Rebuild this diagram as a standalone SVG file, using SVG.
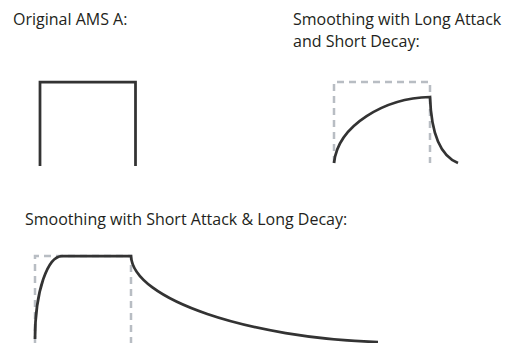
<svg xmlns="http://www.w3.org/2000/svg" width="523" height="343" viewBox="0 0 523 343">
<style>
text{font-family:"Open Sans","Noto Sans","Liberation Sans",sans-serif;font-size:16px;fill:#231f20}
.env{fill:none;stroke:#333;stroke-width:2.75}
.dash{fill:none;stroke:#b8bdc3;stroke-width:2.5;stroke-dasharray:7 5}
</style>
<rect width="523" height="343" fill="#fff"/>
<g id="original">
<text x="13" y="25">Original AMS A:</text>
<path class="env" d="M40,166 V82 H135.5 V166"/>
</g>
<g id="long-attack">
<text x="293" y="25">Smoothing with Long Attack</text>
<text x="293" y="46.5">and Short Decay:</text>
<path class="dash" d="M334,163 V82 H430 V163"/>
<path class="env" d="M334,163 C338,125 385,98 430,97 C431,127 438,155 458,163"/>
</g>
<g id="short-attack">
<text x="25" y="225">Smoothing with Short Attack &amp; Long Decay:</text>
<path class="dash" d="M35,343 V256 H131 V343"/>
<path class="env" d="M35,339 C35,290 48,256 62,256 H131 C133,300 250,338 378,342"/>
</g>
</svg>
